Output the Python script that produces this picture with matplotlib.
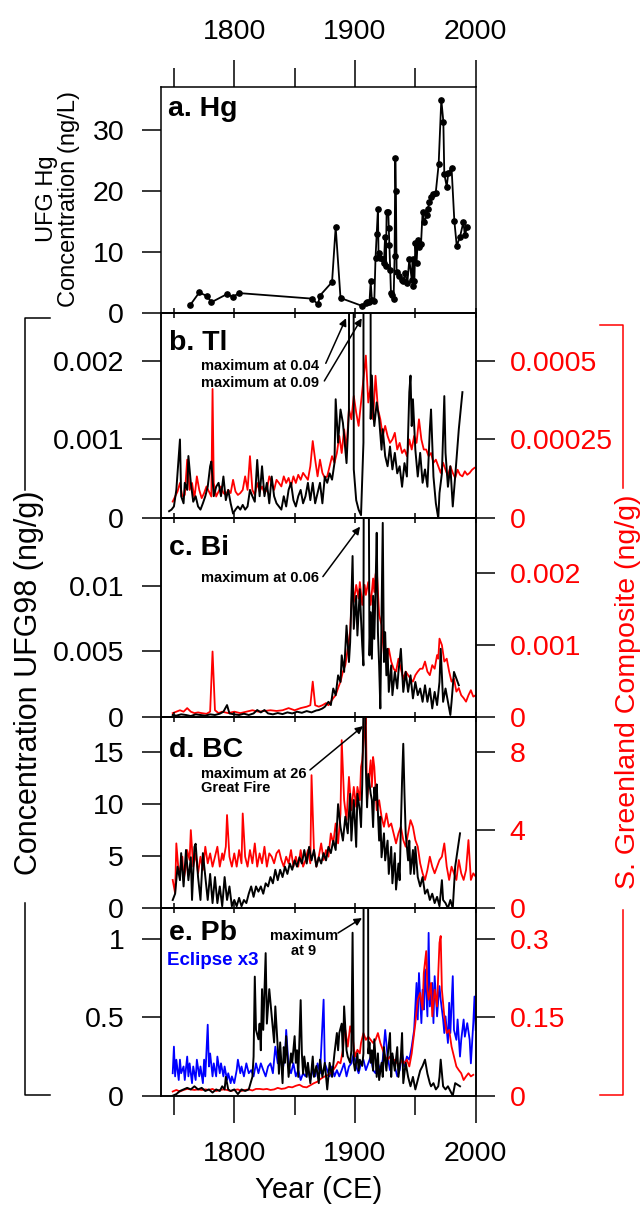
import numpy as np
import matplotlib.pyplot as plt
from matplotlib.lines import Line2D

plt.rcParams['font.family'] = ['Liberation Sans', 'DejaVu Sans']

# ---- data -------------------------------------------------------------
hg_year = [1763.3, 1771.0, 1777.6, 1781.0, 1793.6, 1799.0, 1804.0, 1864.0, 1869.4, 1871.0,
           1881.0, 1884.0, 1888.0, 1906.0, 1909.0, 1910.0, 1912.0, 1913.0, 1914.0, 1916.0,
           1917.0, 1918.0, 1919.0, 1919.5, 1920.7, 1923.0, 1924.0, 1924.9, 1925.6, 1926.2,
           1927.6, 1928.0, 1928.5, 1929.2, 1929.8, 1930.7, 1932.0, 1932.8, 1933.4, 1933.9,
           1934.5, 1936.7, 1938.7, 1940.0, 1941.4, 1943.4, 1945.0, 1947.0, 1947.8, 1948.3,
           1949.2, 1950.0, 1951.0, 1952.0, 1953.3, 1954.7, 1956.0, 1957.5, 1959.4, 1960.5,
           1961.6, 1963.0, 1965.0, 1966.9, 1969.3, 1971.5, 1973.2, 1974.0, 1976.0, 1977.3,
           1980.0, 1982.3, 1984.3, 1987.0, 1989.8, 1991.0, 1993.0]
hg_conc = [1.3, 3.4, 2.8, 1.8, 3.1, 2.7, 3.3, 2.4, 1.5, 2.9,
           5.1, 14.1, 2.5, 1.2, 1.7, 1.9, 1.8, 5.2, 2.2, 2.0,
           9.0, 13.0, 17.0, 9.8, 9.0, 8.8, 8.2, 12.4, 7.7, 16.5,
           16.5, 13.9, 11.1, 7.0, 3.3, 3.0, 2.4, 9.3, 25.4, 19.9,
           6.8, 6.1, 5.5, 5.3, 6.5, 5.0, 8.8, 5.5, 8.8, 4.5,
           5.3, 11.4, 8.2, 11.9, 10.9, 11.3, 16.5, 14.9, 16.0, 17.1,
           18.2, 19.0, 19.4, 19.7, 24.3, 34.9, 31.3, 22.7, 20.7, 22.9,
           23.8, 15.1, 11.0, 12.5, 14.9, 12.8, 14.1]

# Tl, UFG98 (x1e-3 ng/g)
tl_ufg = [(1746, 0.09), (1748, 0.11), (1750, 0.15), (1752, 0.36), (1755, 1.00), (1756, 0.28),
          (1758, 0.19), (1759, 0.45), (1761, 0.36), (1762, 0.79), (1764, 0.45), (1766, 0.21),
          (1768, 0.28), (1770, 0.15), (1772, 0.11), (1774, 0.19), (1776, 0.28), (1778, 0.40),
          (1780, 0.66), (1781, 0.72), (1783, 0.28), (1785, 0.40), (1787, 0.45), (1789, 0.28),
          (1791, 0.53), (1793, 0.23), (1795, 0.36), (1797, 0.19), (1799, 0.06), (1801, 0.11),
          (1803, 0.15), (1805, 0.11), (1807, 0.17), (1809, 0.11), (1811, 0.15), (1813, 0.36),
          (1815, 0.28), (1817, 0.21), (1819, 0.74), (1821, 0.28), (1823, 0.66), (1825, 0.28),
          (1827, 0.45), (1829, 0.19), (1831, 0.53), (1833, 0.28), (1835, 0.19), (1837, 0.15),
          (1839, 0.11), (1841, 0.28), (1843, 0.15), (1845, 0.36), (1847, 0.45), (1849, 0.23),
          (1851, 0.15), (1853, 0.28), (1855, 0.36), (1857, 0.19), (1859, 0.28), (1861, 0.45),
          (1863, 0.23), (1865, 0.45), (1867, 0.19), (1869, 0.32), (1871, 0.45), (1873, 0.19),
          (1875, 0.53), (1877, 0.45), (1879, 0.57), (1881, 0.49), (1883, 0.70), (1884, 1.51),
          (1886, 0.96), (1888, 1.38), (1890, 1.21), (1892, 0.87), (1893, 0.70), (1895, 1.38),
          (1897, 40.0), (1899, 0.62), (1901, 0.23), (1903, 0.11), (1905, 0.04), (1907, 0.96),
          (1909, 90.0), (1911, 60.0), (1913, 1.26), (1914, 1.81), (1915, 1.38), (1916, 1.17),
          (1918, 1.47), (1920, 1.26), (1922, 0.87), (1923, 1.13), (1925, 0.79), (1927, 0.66),
          (1929, 0.91), (1931, 0.62), (1933, 0.83), (1935, 0.57), (1937, 0.66), (1939, 0.40),
          (1941, 0.70), (1943, 0.53), (1945, 1.60), (1946, 1.81), (1947, 1.17), (1948, 1.51),
          (1950, 0.87), (1952, 0.53), (1954, 0.83), (1956, 0.45), (1958, 0.62), (1960, 0.40),
          (1962, 1.13), (1963, 1.38), (1965, 0.53), (1967, 0.19), (1969, 0.0), (1970, 0.32),
          (1972, 0.57), (1974, 1.55), (1975, 0.83), (1977, 0.40), (1979, 0.66), (1981, 0.15),
          (1983, 0.53), (1986, 1.13), (1989, 1.60)]

# Tl, S. Greenland composite (x1e-4 ng/g)
tl_sg = [(1749, 0.53), (1751, 0.69), (1753, 0.85), (1755, 1.12), (1757, 0.69), (1759, 0.74),
         (1761, 1.86), (1763, 0.90), (1765, 1.12), (1767, 0.64), (1769, 1.33), (1771, 0.90),
         (1773, 0.64), (1775, 0.80), (1777, 1.01), (1779, 0.85), (1781, 0.69), (1782, 4.10),
         (1783, 1.12), (1785, 0.69), (1787, 0.85), (1789, 1.01), (1791, 0.80), (1793, 0.74),
         (1795, 0.90), (1797, 0.80), (1799, 1.22), (1801, 0.85), (1803, 0.74), (1805, 0.80),
         (1807, 0.90), (1809, 1.33), (1811, 0.90), (1813, 1.97), (1815, 0.90), (1817, 0.74),
         (1819, 1.12), (1821, 0.85), (1823, 1.01), (1825, 0.80), (1827, 0.90), (1829, 1.33),
         (1831, 1.12), (1833, 0.90), (1835, 1.22), (1837, 1.12), (1839, 1.01), (1841, 1.33),
         (1843, 1.12), (1845, 1.28), (1847, 1.01), (1849, 1.33), (1851, 1.12), (1853, 1.38),
         (1855, 1.22), (1857, 1.44), (1859, 1.33), (1861, 1.22), (1863, 1.65), (1865, 2.45),
         (1867, 1.86), (1869, 1.33), (1871, 1.86), (1873, 1.44), (1875, 1.28), (1877, 1.33),
         (1879, 1.65), (1881, 1.97), (1883, 1.76), (1885, 2.07), (1887, 2.61), (1889, 2.07),
         (1891, 2.82), (1893, 2.18), (1895, 3.46), (1897, 3.14), (1899, 3.88), (1901, 3.35),
         (1903, 2.93), (1905, 3.67), (1907, 4.41), (1909, 5.16), (1911, 3.67), (1913, 4.20),
         (1915, 3.14), (1917, 4.52), (1919, 3.46), (1921, 3.14), (1923, 2.61), (1925, 2.93),
         (1927, 2.61), (1929, 2.39), (1931, 2.50), (1933, 2.71), (1935, 2.18), (1937, 2.39),
         (1939, 2.07), (1941, 2.18), (1943, 1.97), (1945, 2.50), (1947, 2.18), (1949, 2.61),
         (1951, 2.39), (1953, 3.14), (1955, 2.50), (1957, 2.18), (1959, 2.18), (1961, 1.97),
         (1963, 2.07), (1965, 1.76), (1967, 1.86), (1969, 1.65), (1971, 1.44), (1973, 1.76),
         (1975, 1.54), (1977, 1.33), (1979, 1.65), (1981, 1.44), (1983, 1.28), (1985, 1.54),
         (1987, 1.38), (1989, 1.33), (1991, 1.49), (1993, 1.38), (1995, 1.44), (1997, 1.54),
         (1999, 1.60)]

# Bi, UFG98 (x1e-3 ng/g)
bi_ufg = [(1749, 0.13), (1752, 0.08), (1756, 0.18), (1760, 0.13), (1764, 0.05), (1768, 0.18),
          (1772, 0.13), (1776, 0.08), (1780, 0.18), (1784, 0.13), (1788, 0.23), (1791, 0.38),
          (1794, 0.89), (1796, 0.25), (1800, 0.18), (1804, 0.13), (1808, 0.23), (1812, 0.13),
          (1816, 0.25), (1819, 0.51), (1822, 0.33), (1825, 0.51), (1828, 0.25), (1832, 0.18),
          (1836, 0.28), (1840, 0.20), (1844, 0.33), (1848, 0.25), (1852, 0.38), (1856, 0.30),
          (1860, 0.43), (1864, 0.33), (1868, 0.48), (1870, 0.51), (1873, 0.63), (1875, 0.76),
          (1878, 1.14), (1880, 0.89), (1882, 2.16), (1884, 1.65), (1886, 3.17), (1888, 2.66),
          (1889, 4.70), (1891, 3.43), (1893, 6.98), (1895, 4.19), (1896, 5.71), (1898, 12.31),
          (1899, 6.73), (1901, 9.26), (1902, 6.22), (1904, 9.77), (1905, 7.49), (1906, 5.46),
          (1907, 3.93), (1908, 60.0), (1910, 50.0), (1912, 4.70), (1913, 8.00), (1914, 4.44),
          (1915, 9.26), (1916, 5.96), (1917, 9.77), (1918, 14.09), (1919, 6.47), (1920, 3.93),
          (1921, 0.63), (1922, 7.74), (1923, 14.85), (1924, 4.19), (1925, 6.47), (1926, 3.17),
          (1927, 5.20), (1928, 1.90), (1930, 3.93), (1931, 1.65), (1933, 3.43), (1935, 2.16),
          (1936, 3.43), (1938, 5.20), (1940, 1.90), (1942, 3.43), (1944, 1.90), (1946, 3.17),
          (1948, 1.40), (1950, 2.66), (1952, 1.65), (1954, 2.16), (1956, 1.14), (1958, 2.41),
          (1960, 1.14), (1962, 2.16), (1964, 0.63), (1966, 1.90), (1968, 0.89), (1970, 2.66),
          (1971, 5.20), (1973, 1.14), (1975, 2.16), (1977, 1.14), (1979, 0.13), (1980, 1.14),
          (1982, 3.43), (1984, 2.92), (1986, 2.41)]

# Bi, S. Greenland composite (x1e-3 ng/g)
bi_sg = [(1749, 0.05), (1752, 0.07), (1755, 0.09), (1758, 0.07), (1761, 0.12), (1764, 0.07),
         (1767, 0.05), (1770, 0.06), (1773, 0.05), (1777, 0.04), (1780, 0.07), (1782, 0.91),
         (1784, 0.09), (1787, 0.05), (1790, 0.07), (1795, 0.05), (1800, 0.07), (1805, 0.05),
         (1810, 0.07), (1815, 0.09), (1820, 0.07), (1825, 0.08), (1830, 0.09), (1835, 0.08),
         (1840, 0.09), (1845, 0.12), (1850, 0.09), (1855, 0.12), (1860, 0.14), (1863, 0.16),
         (1865, 0.49), (1867, 0.16), (1870, 0.14), (1873, 0.16), (1876, 0.19), (1878, 0.16),
         (1880, 0.21), (1882, 0.26), (1884, 0.30), (1886, 0.40), (1888, 0.49), (1890, 0.63),
         (1892, 0.72), (1894, 0.95), (1896, 1.19), (1898, 1.88), (1899, 1.60), (1901, 1.84),
         (1903, 1.65), (1904, 1.88), (1906, 1.56), (1908, 1.84), (1909, 1.70), (1911, 1.88),
         (1913, 1.56), (1915, 1.93), (1916, 1.74), (1917, 1.98), (1918, 2.07), (1920, 1.42),
         (1922, 1.28), (1924, 0.86), (1926, 0.77), (1928, 0.95), (1930, 0.77), (1932, 0.67),
         (1934, 0.63), (1936, 0.81), (1938, 0.67), (1940, 0.53), (1942, 0.63), (1944, 0.58),
         (1946, 0.53), (1948, 0.49), (1950, 0.58), (1952, 0.63), (1954, 0.67), (1956, 0.67),
         (1958, 0.77), (1960, 0.63), (1962, 0.58), (1964, 0.72), (1966, 0.67), (1968, 0.86),
         (1969, 0.81), (1970, 1.09), (1972, 1.00), (1974, 0.77), (1976, 0.81), (1978, 0.63),
         (1980, 0.49), (1982, 0.53), (1984, 0.35), (1986, 0.40), (1988, 0.30), (1990, 0.26),
         (1992, 0.21), (1994, 0.30), (1996, 0.37), (1998, 0.28), (2000, 0.30)]

# BC, UFG98 (ng/g)
bc_ufg = [(1749, 0.8), (1751, 1.4), (1753, 4.0), (1755, 2.7), (1756, 5.3), (1758, 2.1),
          (1760, 5.6), (1762, 2.7), (1764, 4.9), (1765, 0.8), (1767, 5.9), (1768, 6.2),
          (1770, 3.0), (1772, 0.8), (1774, 5.3), (1776, 3.0), (1778, 0.8), (1780, 3.3),
          (1782, 0.5), (1784, 3.0), (1786, 0.5), (1788, 2.1), (1790, 0.2), (1792, 3.0),
          (1794, 0.8), (1796, 2.1), (1798, 0.2), (1800, 0.8), (1802, 0.2), (1804, 1.0),
          (1806, 0.2), (1808, 0.8), (1810, 0.5), (1812, 1.4), (1814, 2.1), (1816, 1.1),
          (1818, 2.1), (1820, 1.6), (1822, 2.1), (1824, 1.4), (1826, 2.4), (1828, 2.1),
          (1830, 3.0), (1832, 2.4), (1834, 3.7), (1836, 2.7), (1838, 3.7), (1840, 3.0),
          (1842, 4.0), (1844, 3.3), (1846, 4.3), (1848, 3.7), (1850, 4.6), (1852, 4.0),
          (1854, 4.9), (1856, 4.3), (1858, 5.6), (1860, 4.3), (1862, 5.9), (1864, 4.6),
          (1866, 5.6), (1868, 4.0), (1870, 4.9), (1872, 4.3), (1874, 5.3), (1876, 4.6),
          (1878, 5.9), (1880, 5.3), (1882, 6.5), (1884, 5.6), (1886, 10.0), (1888, 7.8),
          (1890, 6.5), (1892, 8.8), (1894, 7.2), (1896, 11.0), (1897, 6.5), (1899, 10.4),
          (1901, 5.9), (1902, 11.0), (1904, 9.4), (1905, 7.8), (1906, 11.9), (1908, 26.0),
          (1909, 13.5), (1910, 9.7), (1911, 12.9), (1913, 11.0), (1914, 10.4), (1915, 7.8),
          (1916, 11.6), (1917, 10.4), (1918, 11.9), (1920, 6.5), (1921, 8.8), (1922, 4.9),
          (1924, 7.2), (1925, 4.6), (1927, 6.5), (1928, 3.3), (1930, 5.9), (1931, 2.4),
          (1933, 5.3), (1934, 1.8), (1936, 4.3), (1937, 2.7), (1938, 7.8), (1939, 12.3),
          (1940, 15.8), (1941, 11.0), (1942, 7.2), (1944, 4.6), (1945, 6.5), (1946, 3.3),
          (1948, 5.6), (1949, 3.3), (1950, 5.9), (1952, 3.0), (1954, 2.1), (1956, 3.0),
          (1958, 1.4), (1960, 1.8), (1962, 0.8), (1964, 1.4), (1966, 0.5), (1968, 1.1),
          (1970, 0.2), (1972, 2.7), (1973, 0.8), (1975, 0.5), (1977, 0.0), (1979, 0.8),
          (1981, 0.0), (1983, 4.0), (1985, 5.6), (1987, 7.2)]

# BC, S. Greenland composite (ng/g)
bc_sg = [(1749, 1.45), (1751, 0.77), (1752, 3.32), (1754, 1.79), (1755, 1.96), (1757, 2.64),
         (1758, 1.45), (1760, 2.13), (1761, 2.98), (1763, 2.47), (1764, 4.00), (1766, 2.13),
         (1768, 2.81), (1770, 1.79), (1772, 2.64), (1774, 1.96), (1776, 3.15), (1778, 2.30),
         (1780, 2.81), (1782, 2.13), (1784, 2.64), (1786, 3.15), (1788, 2.13), (1790, 2.81),
         (1791, 2.47), (1793, 3.15), (1794, 4.77), (1796, 2.64), (1798, 2.13), (1800, 2.81),
         (1802, 2.13), (1804, 2.98), (1806, 2.30), (1807, 4.85), (1809, 2.64), (1811, 2.13),
         (1813, 2.98), (1815, 2.30), (1817, 3.32), (1819, 2.13), (1821, 2.81), (1823, 2.30),
         (1825, 3.15), (1827, 2.13), (1829, 2.81), (1831, 2.64), (1833, 2.30), (1835, 2.81),
         (1837, 2.98), (1839, 2.47), (1841, 2.13), (1843, 2.64), (1845, 2.30), (1847, 2.98),
         (1849, 2.13), (1851, 2.64), (1853, 2.13), (1855, 2.98), (1857, 2.13), (1859, 2.47),
         (1861, 2.98), (1863, 2.30), (1864, 6.81), (1866, 2.98), (1868, 2.13), (1870, 2.64),
         (1872, 3.32), (1874, 2.47), (1876, 2.98), (1878, 2.64), (1880, 3.83), (1882, 3.32),
         (1884, 4.34), (1886, 3.32), (1888, 4.85), (1889, 8.60), (1891, 5.53), (1893, 4.51),
         (1895, 6.72), (1897, 5.02), (1899, 6.21), (1901, 5.19), (1902, 6.21), (1904, 5.53),
         (1905, 7.23), (1906, 7.57), (1908, 9.11), (1909, 9.79), (1910, 5.53), (1912, 6.89),
         (1913, 7.57), (1914, 6.21), (1915, 7.74), (1916, 7.23), (1918, 5.02), (1920, 5.53),
         (1922, 4.68), (1924, 4.17), (1926, 4.85), (1928, 4.17), (1930, 4.34), (1932, 3.83),
         (1934, 3.32), (1936, 3.83), (1938, 4.17), (1940, 3.49), (1942, 3.15), (1944, 3.83),
         (1946, 4.51), (1948, 4.17), (1950, 3.49), (1952, 3.15), (1954, 2.30), (1956, 1.79),
         (1958, 1.45), (1960, 1.96), (1962, 2.64), (1964, 2.13), (1966, 1.79), (1968, 2.13),
         (1970, 2.47), (1972, 2.64), (1974, 3.32), (1976, 2.13), (1978, 1.45), (1980, 2.13),
         (1982, 1.79), (1984, 1.45), (1986, 2.47), (1988, 1.79), (1990, 1.45), (1992, 1.96),
         (1994, 3.49), (1996, 1.45), (1998, 1.79), (2000, 1.62)]

# Pb, UFG98 (ng/g)
pb_ufg = [(1749, 0.00), (1752, 0.01), (1755, 0.03), (1758, 0.04), (1761, 0.05), (1764, 0.04),
          (1767, 0.06), (1770, 0.04), (1773, 0.05), (1776, 0.03), (1779, 0.04), (1782, 0.02),
          (1785, 0.04), (1788, 0.03), (1790, 0.06), (1792, 0.04), (1793, 0.12), (1795, 0.04),
          (1797, 0.03), (1800, 0.04), (1803, 0.01), (1806, 0.04), (1809, 0.03), (1812, 0.04),
          (1815, 0.12), (1816, 0.25), (1817, 0.76), (1818, 0.42), (1820, 0.36), (1821, 0.46),
          (1822, 0.29), (1823, 0.68), (1824, 0.42), (1826, 0.91), (1827, 0.46), (1828, 0.57),
          (1829, 0.68), (1831, 0.51), (1833, 0.34), (1834, 0.57), (1836, 0.31), (1837, 0.14),
          (1838, 0.34), (1840, 0.08), (1841, 0.31), (1842, 0.21), (1843, 0.38), (1845, 0.12),
          (1847, 0.27), (1848, 0.21), (1850, 0.38), (1851, 0.21), (1852, 0.29), (1853, 0.12),
          (1855, 0.61), (1856, 0.27), (1857, 0.14), (1858, 0.25), (1860, 0.12), (1861, 0.21),
          (1863, 0.08), (1865, 0.25), (1866, 0.12), (1868, 0.19), (1870, 0.08), (1871, 0.23),
          (1873, 0.12), (1875, 0.21), (1877, 0.04), (1879, 0.21), (1881, 0.12), (1883, 0.27),
          (1885, 0.40), (1886, 0.29), (1887, 0.40), (1889, 0.46), (1890, 0.25), (1891, 0.57),
          (1893, 0.29), (1894, 0.25), (1896, 0.21), (1897, 0.29), (1898, 1.04), (1899, 0.21),
          (1900, 0.16), (1902, 0.27), (1903, 0.16), (1904, 0.23), (1906, 0.19), (1907, 0.27),
          (1908, 9.0), (1910, 9.0), (1911, 0.27), (1912, 0.34), (1913, 0.21), (1914, 0.29),
          (1915, 0.16), (1916, 0.36), (1918, 0.12), (1919, 0.27), (1920, 0.10), (1922, 0.21),
          (1923, 0.12), (1924, 0.31), (1926, 0.16), (1927, 0.25), (1929, 0.40), (1930, 0.12),
          (1931, 0.27), (1933, 0.16), (1935, 0.31), (1936, 0.12), (1938, 0.25), (1939, 0.40),
          (1940, 0.08), (1942, 0.21), (1944, 0.12), (1946, 0.06), (1948, 0.12), (1950, 0.04),
          (1952, 0.10), (1954, 0.16), (1956, 0.19), (1958, 0.23), (1960, 0.14), (1962, 0.08),
          (1963, 0.06), (1965, 0.08), (1967, 0.04), (1969, 0.06), (1970, 0.12), (1971, 0.23),
          (1973, 0.06), (1975, 0.04), (1977, 0.06), (1979, 0.03), (1981, 0.00), (1983, 0.08),
          (1985, 0.07), (1987, 0.06)]

# Pb, S. Greenland composite (ng/g)
pb_sg = [(1749, 0.008), (1752, 0.011), (1755, 0.008), (1758, 0.011), (1761, 0.013), (1764, 0.012),
         (1767, 0.011), (1770, 0.012), (1773, 0.011), (1776, 0.012), (1779, 0.011), (1782, 0.013),
         (1785, 0.009), (1788, 0.011), (1791, 0.012), (1794, 0.011), (1797, 0.009), (1800, 0.011),
         (1803, 0.012), (1806, 0.009), (1809, 0.011), (1812, 0.012), (1815, 0.010), (1818, 0.013),
         (1821, 0.013), (1824, 0.012), (1827, 0.013), (1830, 0.011), (1833, 0.012), (1836, 0.015),
         (1839, 0.013), (1842, 0.014), (1845, 0.017), (1848, 0.016), (1851, 0.019), (1854, 0.021),
         (1857, 0.017), (1860, 0.016), (1863, 0.020), (1866, 0.024), (1869, 0.027), (1872, 0.033),
         (1875, 0.037), (1878, 0.040), (1881, 0.046), (1884, 0.056), (1886, 0.065), (1888, 0.062),
         (1890, 0.088), (1891, 0.120), (1892, 0.126), (1894, 0.094), (1896, 0.133), (1898, 0.113),
         (1900, 0.075), (1902, 0.088), (1904, 0.081), (1905, 0.101), (1907, 0.120), (1909, 0.107),
         (1911, 0.113), (1913, 0.107), (1915, 0.101), (1917, 0.107), (1919, 0.120), (1921, 0.101),
         (1923, 0.088), (1925, 0.075), (1927, 0.069), (1929, 0.075), (1931, 0.062), (1933, 0.069),
         (1935, 0.062), (1937, 0.059), (1939, 0.069), (1941, 0.062), (1943, 0.069), (1945, 0.056),
         (1947, 0.081), (1948, 0.101), (1950, 0.139), (1952, 0.184), (1954, 0.197), (1956, 0.165),
         (1957, 0.235), (1959, 0.277), (1960, 0.203), (1961, 0.184), (1963, 0.216), (1964, 0.152),
         (1966, 0.203), (1968, 0.171), (1969, 0.235), (1970, 0.293), (1971, 0.306), (1972, 0.203),
         (1974, 0.152), (1976, 0.120), (1978, 0.126), (1980, 0.094), (1982, 0.075), (1984, 0.056),
         (1986, 0.049), (1988, 0.043), (1990, 0.030), (1992, 0.037), (1994, 0.043), (1996, 0.037),
         (1998, 0.040)]

# Pb, Eclipse core x3 (ng/g)
pb_eclipse = [(1749, 0.043), (1750, 0.094), (1751, 0.037), (1752, 0.069), (1754, 0.030), (1755, 0.069),
              (1756, 0.043), (1758, 0.056), (1759, 0.030), (1761, 0.075), (1762, 0.037), (1763, 0.062),
              (1765, 0.024), (1766, 0.056), (1768, 0.030), (1769, 0.069), (1771, 0.037), (1772, 0.056),
              (1774, 0.024), (1775, 0.069), (1776, 0.037), (1778, 0.136), (1779, 0.056), (1780, 0.081),
              (1782, 0.037), (1783, 0.062), (1785, 0.037), (1786, 0.075), (1788, 0.043), (1789, 0.062),
              (1791, 0.037), (1792, 0.056), (1794, 0.030), (1795, 0.043), (1797, 0.024), (1798, 0.037),
              (1800, 0.024), (1802, 0.049), (1803, 0.069), (1805, 0.043), (1806, 0.056), (1808, 0.037),
              (1810, 0.062), (1812, 0.043), (1814, 0.049), (1816, 0.037), (1818, 0.062), (1820, 0.043),
              (1822, 0.062), (1824, 0.049), (1826, 0.037), (1828, 0.056), (1830, 0.062), (1832, 0.043),
              (1834, 0.094), (1836, 0.062), (1838, 0.075), (1840, 0.049), (1842, 0.075), (1843, 0.126),
              (1845, 0.056), (1847, 0.043), (1849, 0.062), (1851, 0.037), (1853, 0.049), (1855, 0.030),
              (1857, 0.043), (1859, 0.037), (1861, 0.049), (1863, 0.030), (1865, 0.049), (1867, 0.037),
              (1869, 0.062), (1871, 0.043), (1872, 0.088), (1874, 0.184), (1875, 0.062), (1877, 0.049),
              (1879, 0.037), (1881, 0.056), (1883, 0.037), (1885, 0.049), (1887, 0.037), (1889, 0.049),
              (1891, 0.062), (1893, 0.037), (1895, 0.056), (1897, 0.062), (1899, 0.081), (1901, 0.056),
              (1903, 0.043), (1905, 0.062), (1907, 0.069), (1909, 0.049), (1911, 0.062), (1913, 0.075),
              (1915, 0.049), (1917, 0.043), (1919, 0.062), (1921, 0.049), (1923, 0.069), (1925, 0.126),
              (1927, 0.075), (1929, 0.049), (1931, 0.075), (1933, 0.056), (1935, 0.037), (1937, 0.049),
              (1939, 0.081), (1941, 0.056), (1943, 0.075), (1945, 0.069), (1947, 0.094), (1949, 0.126),
              (1951, 0.216), (1952, 0.146), (1953, 0.235), (1955, 0.139), (1956, 0.203), (1957, 0.165),
              (1958, 0.242), (1960, 0.152), (1961, 0.312), (1962, 0.171), (1964, 0.216), (1965, 0.139),
              (1966, 0.229), (1968, 0.152), (1969, 0.184), (1970, 0.210), (1971, 0.184), (1973, 0.146),
              (1974, 0.120), (1975, 0.152), (1977, 0.101), (1978, 0.178), (1979, 0.120), (1981, 0.229),
              (1982, 0.126), (1984, 0.107), (1985, 0.146), (1987, 0.075), (1988, 0.107), (1990, 0.146),
              (1991, 0.113), (1993, 0.139), (1995, 0.107), (1996, 0.062), (1998, 0.139), (1999, 0.190),
              (2000, 0.126)]

# ---- layout -------------------------------------------------------------
W, H = 643, 1205
LEFT, RIGHT = 161, 475.7
panel_px = [(87.3, 313.3), (313.3, 518.3), (518.3, 716.7), (716.7, 908.3), (908.3, 1095.7)]
XLIM = (1739.3, 2000)
RED, BLUE = '#ff0000', '#0000ff'
TICKFS = 20.5

fig = plt.figure(figsize=(W / 100, H / 100), dpi=100)


def make_axes(top, bottom):
    return fig.add_axes([LEFT / W, 1 - bottom / H, (RIGHT - LEFT) / W, (bottom - top) / H])


def style_left(ax, ylim, ticks, labels):
    ax.set_xlim(*XLIM)
    ax.set_ylim(*ylim)
    ax.set_xticks([1800, 1900, 2000])
    ax.set_xticks([1750, 1850, 1950], minor=True)
    ax.set_yticks(ticks, labels)
    ax.tick_params(axis='y', direction='out', length=13.5, width=1.1, labelsize=TICKFS, pad=13)
    for s in ax.spines.values():
        s.set_linewidth(1.1)


def style_right(tw, ylim, ticks, labels):
    tw.set_ylim(*ylim)
    tw.set_yticks(ticks, labels)
    tw.tick_params(axis='y', direction='out', length=13.5, width=1.1, labelsize=TICKFS,
                   labelcolor=RED, pad=11)


def inner_xticks(ax):
    ax.tick_params(axis='x', which='both', top=True, bottom=False, labeltop=False,
                   labelbottom=False, direction='inout', length=7, width=1.1)


axes = [make_axes(t, b) for t, b in panel_px]
ax_a, ax_b, ax_c, ax_d, ax_e = axes

# ---- a. Hg ----
style_left(ax_a, (0, 36.9), [0, 10, 20, 30], ['0', '10', '20', '30'])
ax_a.plot(hg_year, hg_conc, color='black', lw=1.3, marker='o', ms=3.8)
ax_a.tick_params(axis='x', which='both', top=True, bottom=False, labeltop=True,
                 labelbottom=False, direction='out', width=1.1, labelsize=TICKFS, pad=11)
ax_a.tick_params(axis='x', which='major', length=19.5)
ax_a.tick_params(axis='x', which='minor', length=13.5)
ax_a.text(0.022, 0.905, 'a. Hg', transform=ax_a.transAxes, fontsize=20.5,
          fontweight='bold', va='center', ha='left')


def panel(ax, ufg, sg, unit_ufg, unit_sg, lim_l, lim_r, ticks_l, lab_l, ticks_r, lab_r, extra=None):
    tw = ax.twinx()
    ax.set_zorder(tw.get_zorder() + 1)
    ax.patch.set_visible(False)
    style_left(ax, lim_l, ticks_l, lab_l)
    style_right(tw, lim_r, ticks_r, lab_r)
    for s in tw.spines.values():
        s.set_linewidth(1.1)
    if extra is not None:
        ex = np.array(extra)
        tw.plot(ex[:, 0], ex[:, 1], color=BLUE, lw=1.3)
    s_arr = np.array(sg)
    tw.plot(s_arr[:, 0], s_arr[:, 1] * unit_sg, color=RED, lw=1.3)
    u_arr = np.array(ufg)
    ax.plot(u_arr[:, 0], u_arr[:, 1] * unit_ufg, color='black', lw=1.4)
    return tw


def arrow(ax, tail, tip):
    ax.annotate('', xy=tip, xytext=tail, xycoords=('data', 'axes fraction'),
                textcoords=('data', 'axes fraction'),
                arrowprops=dict(arrowstyle='-|>', color='black', lw=1.1,
                                mutation_scale=11, shrinkA=0, shrinkB=0))


# ---- b. Tl ----
tw_b = panel(ax_b, tl_ufg, tl_sg, 1e-3, 1e-4, (0, 0.0026), (0, 0.00065),
             [0, 0.001, 0.002], ['0', '0.001', '0.002'],
             [0, 0.00025, 0.0005], ['0', '0.00025', '0.0005'])
inner_xticks(ax_b)
ax_b.text(0.025, 0.855, 'b. Tl', transform=ax_b.transAxes, fontsize=20.5,
          fontweight='bold', va='center', ha='left')
ax_b.text(0.127, 0.743, 'maximum at 0.04', transform=ax_b.transAxes, fontsize=10.5,
          fontweight='bold', va='center', ha='left')
ax_b.text(0.127, 0.66, 'maximum at 0.09', transform=ax_b.transAxes, fontsize=10.5,
          fontweight='bold', va='center', ha='left')
arrow(ax_b, (1875.8, 0.756), (1892.6, 0.976))
arrow(ax_b, (1874.6, 0.67), (1905.6, 0.976))

# ---- c. Bi ----
tw_c = panel(ax_c, bi_ufg, bi_sg, 1e-3, 1e-3, (0, 0.0152), (0, 0.00277),
             [0, 0.005, 0.01], ['0', '0.005', '0.01'],
             [0, 0.001, 0.002], ['0', '0.001', '0.002'])
inner_xticks(ax_c)
ax_c.text(0.025, 0.85, 'c. Bi', transform=ax_c.transAxes, fontsize=20.5,
          fontweight='bold', va='center', ha='left')
ax_c.text(0.127, 0.70, 'maximum at 0.06', transform=ax_c.transAxes, fontsize=10.5,
          fontweight='bold', va='center', ha='left')
arrow(ax_c, (1873.4, 0.706), (1904.2, 0.958))

# ---- d. BC ----
tw_d = panel(ax_d, bc_ufg, bc_sg, 1.0, 1.0, (0, 18.4), (0, 9.8),
             [0, 5, 10, 15], ['0', '5', '10', '15'],
             [0, 4, 8], ['0', '4', '8'])
inner_xticks(ax_d)
ax_d.text(0.025, 0.826, 'd. BC', transform=ax_d.transAxes, fontsize=20.5,
          fontweight='bold', va='center', ha='left')
ax_d.text(0.127, 0.70, 'maximum at 26', transform=ax_d.transAxes, fontsize=10.5,
          fontweight='bold', va='center', ha='left')
ax_d.text(0.127, 0.628, 'Great Fire', transform=ax_d.transAxes, fontsize=10.5,
          fontweight='bold', va='center', ha='left')
arrow(ax_d, (1862.7, 0.722), (1906.7, 0.951))

# ---- e. Pb ----
tw_e = panel(ax_e, pb_ufg, pb_sg, 1.0, 1.0, (0, 1.196), (0, 0.359),
             [0, 0.5, 1], ['0', '0.5', '1'],
             [0, 0.15, 0.3], ['0', '0.15', '0.3'], extra=pb_eclipse)
ax_e.tick_params(axis='x', which='both', top=False, bottom=True, labeltop=False,
                 labelbottom=True, direction='out', width=1.1, labelsize=TICKFS, pad=13)
ax_e.tick_params(axis='x', which='major', length=19.5)
ax_e.tick_params(axis='x', which='minor', length=13.5)
tw_e.xaxis.set_visible(True)
tw_e.tick_params(axis='x', which='both', top=True, bottom=False, labeltop=False,
                 labelbottom=False, direction='inout', length=7, width=1.1)
ax_e.text(0.025, 0.868, 'e. Pb', transform=ax_e.transAxes, fontsize=20.5,
          fontweight='bold', va='center', ha='left')
ax_e.text(0.019, 0.724, 'Eclipse x3', transform=ax_e.transAxes, fontsize=13.5,
          fontweight='bold', color=BLUE, va='center', ha='left')
ax_e.text(1857.8, 0.852, 'maximum', transform=ax_e.get_xaxis_transform(), fontsize=10.5,
          fontweight='bold', va='center', ha='center')
ax_e.text(1857.8, 0.772, 'at 9', transform=ax_e.get_xaxis_transform(), fontsize=10.5,
          fontweight='bold', va='center', ha='center')
arrow(ax_e, (1885.9, 0.868), (1905.8, 0.948))

# ---- shared labels and brackets ----
fig.text((LEFT + RIGHT) / 2 / W, 1 - 1190 / H, 'Year (CE)', ha='center', va='center', fontsize=21)
fig.text(58 / W, 1 - 199 / H, 'UFG Hg\nConcentration (ng/L)', rotation=90, ha='center',
         va='center', fontsize=17, linespacing=1.05, multialignment='center')
fig.text(29 / W, 1 - 683 / H, 'Concentration UFG98 (ng/g)', rotation=90, ha='center',
         va='center', fontsize=22)
fig.text(628 / W, 1 - 692 / H, 'S. Greenland Composite (ng/g)', rotation=90, ha='center',
         va='center', fontsize=20.5, color=RED)

brackets = [
    ([50, 25, 25], [318, 318, 490], 'black'),
    ([25, 25, 50], [903, 1095, 1095], 'black'),
    ([600, 623, 623], [325, 325, 488], RED),
    ([623, 623, 600], [910, 1095, 1095], RED),
]
for xs, ys, c in brackets:
    fig.add_artist(Line2D([x / W for x in xs], [1 - y / H for y in ys], color=c, lw=1.1,
                          transform=fig.transFigure))

fig.savefig('out.png', dpi=100)
